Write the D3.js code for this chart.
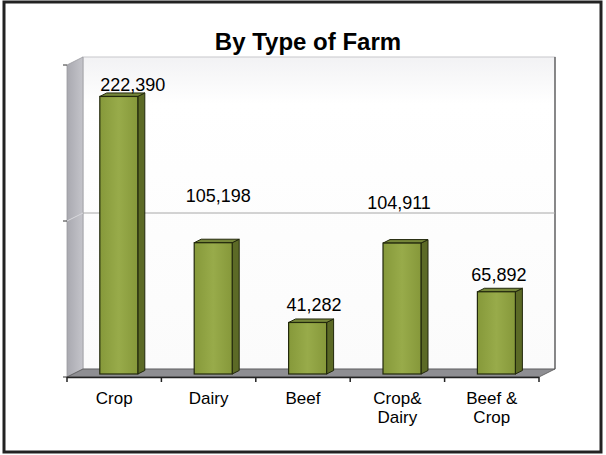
<!DOCTYPE html>
<html>
<head>
<meta charset="utf-8">
<script src="https://cdn.jsdelivr.net/npm/d3@7"></script>
<style>
  html, body { margin: 0; padding: 0; background: #fff; }
  svg { display: block; }
  text { font-family: "Liberation Sans", Arial, sans-serif; }
</style>
</head>
<body>
<svg id="chart" width="606" height="455"></svg>
<script>
// ---- data ----
const title = "By Type of Farm";
const categories = ["Crop", "Dairy", "Beef", "Crop& Dairy", "Beef & Crop"];
const categoryLines = [["Crop"], ["Dairy"], ["Beef"], ["Crop&", "Dairy"], ["Beef &", "Crop"]];
const values = [222390, 105198, 41282, 104911, 65892];
const valueLabels = ["222,390", "105,198", "41,282", "104,911", "65,892"];
const yTicks = [0, 125000, 250000];

// ---- layout ----
const svg = d3.select("#chart");
const front = { left: 67, right: 539, bottom: 377, top: 65 };
const depth = { dx: 16, dy: -8 };
const barShift = { dx: 4.6, dy: -3 };
const barSide = { dx: 7, dy: -3.5 };
// label nudges (layout only) relative to bar top-centre
const labelNudge = [[14, -5.5], [5, -41], [6.5, -11], [-3, -34], [2.5, -11]];

const x = d3.scaleBand().domain(categories).range([front.left, front.right]).paddingInner(0).paddingOuter(0);
const y = d3.scaleLinear().domain([0, 250000]).range([front.bottom, front.top]);

const defs = svg.append("defs");
const wallGrad = defs.append("linearGradient").attr("id", "wall").attr("x1", 0).attr("y1", 0).attr("x2", 0).attr("y2", 1);
wallGrad.append("stop").attr("offset", "0%").attr("stop-color", "#f2f2f4");
wallGrad.append("stop").attr("offset", "15%").attr("stop-color", "#ffffff");
wallGrad.append("stop").attr("offset", "100%").attr("stop-color", "#fbfbfb");
const sideGrad = defs.append("linearGradient").attr("id", "side").attr("x1", 0).attr("y1", 0).attr("x2", 1).attr("y2", 0);
sideGrad.append("stop").attr("offset", "0%").attr("stop-color", "#a9a9b0");
sideGrad.append("stop").attr("offset", "100%").attr("stop-color", "#c4c4ca");
const barGrad = defs.append("linearGradient").attr("id", "barFront").attr("x1", 0).attr("y1", 0).attr("x2", 1).attr("y2", 0);
barGrad.append("stop").attr("offset", "0%").attr("stop-color", "#86993a");
barGrad.append("stop").attr("offset", "50%").attr("stop-color", "#98ab4a");
barGrad.append("stop").attr("offset", "100%").attr("stop-color", "#86983a");

// outer frame
svg.append("rect").attr("x", 4).attr("y", 2).attr("width", 597).attr("height", 450)
  .attr("fill", "#fff").attr("stroke", "#222").attr("stroke-width", 3);

// title
svg.append("text").attr("x", 308).attr("y", 50).attr("text-anchor", "middle")
  .attr("font-size", 24).attr("font-weight", "bold").attr("fill", "#000").text(title);

const y0 = y(0), yMax = y(250000);
// back wall
svg.append("rect")
  .attr("x", front.left + depth.dx).attr("y", yMax + depth.dy)
  .attr("width", front.right - front.left).attr("height", y0 - yMax)
  .attr("fill", "url(#wall)").attr("stroke", "#c8c8cc").attr("stroke-width", 1);
// back wall right edge darker
svg.append("line")
  .attr("x1", front.right + depth.dx).attr("x2", front.right + depth.dx)
  .attr("y1", yMax + depth.dy).attr("y2", y0 + depth.dy)
  .attr("stroke", "#4a4a4a").attr("stroke-width", 1.2);
// side wall
svg.append("polygon")
  .attr("points", [[front.left, yMax], [front.left + depth.dx, yMax + depth.dy], [front.left + depth.dx, y0 + depth.dy], [front.left, y0]].map(p => p.join(",")).join(" "))
  .attr("fill", "url(#side)").attr("stroke", "#9a9aa0").attr("stroke-width", 0.8);
// floor
svg.append("polygon")
  .attr("points", [[front.left, y0], [front.left + depth.dx, y0 + depth.dy], [front.right + depth.dx, y0 + depth.dy], [front.right, y0]].map(p => p.join(",")).join(" "))
  .attr("fill", "#8e8e92").attr("stroke", "#555").attr("stroke-width", 0.8);

// gridlines on back wall and side wall
yTicks.filter(t => t > 0 && t < 250000).forEach(t => {
  svg.append("line")
    .attr("x1", front.left + depth.dx).attr("x2", front.right + depth.dx)
    .attr("y1", y(t) + depth.dy).attr("y2", y(t) + depth.dy)
    .attr("stroke", "#a8a8a8").attr("stroke-width", 1);
  svg.append("line")
    .attr("x1", front.left).attr("x2", front.left + depth.dx)
    .attr("y1", y(t)).attr("y2", y(t) + depth.dy)
    .attr("stroke", "#d8d8dc").attr("stroke-width", 1);
});

// y ticks (no labels)
svg.append("g").selectAll("line").data(yTicks).join("line")
  .attr("x1", front.left - 4).attr("x2", front.left)
  .attr("y1", d => y(d)).attr("y2", d => y(d))
  .attr("stroke", "#333").attr("stroke-width", 1);

// x axis line and ticks
const xAxis = d3.axisBottom(x).tickSize(4).tickFormat("");
const gx = svg.append("g").attr("transform", `translate(0,${y0})`);
gx.append("line").attr("x1", front.left).attr("x2", front.right).attr("y1", 0.5).attr("y2", 0.5)
  .attr("stroke", "#222").attr("stroke-width", 1.5);
const bounds = categories.map(c => x(c)).concat([front.right]);
gx.selectAll("line.tk").data(bounds).join("line").attr("class", "tk")
  .attr("x1", d => d).attr("x2", d => d).attr("y1", 0).attr("y2", 5)
  .attr("stroke", "#222").attr("stroke-width", 1.5);

// bars
const bw = 38;
const bars = svg.append("g");
categories.forEach((c, i) => {
  const cx = x(c) + x.bandwidth() / 2 + barShift.dx;
  const x0 = cx - bw / 2, x1 = cx + bw / 2;
  const bot = y(0) + barShift.dy;
  const top = y(values[i]) + barShift.dy;
  const g = bars.append("g");
  // side face
  g.append("polygon")
    .attr("points", [[x1, top], [x1 + barSide.dx, top + barSide.dy], [x1 + barSide.dx, bot + barSide.dy], [x1, bot]].map(p => p.join(",")).join(" "))
    .attr("fill", "#5c6a26").attr("stroke", "#22280c").attr("stroke-width", 1);
  // top cap
  g.append("polygon")
    .attr("points", [[x0, top], [x0 + barSide.dx, top + barSide.dy], [x1 + barSide.dx, top + barSide.dy], [x1, top]].map(p => p.join(",")).join(" "))
    .attr("fill", "#76873a").attr("stroke", "#22280c").attr("stroke-width", 1);
  // front face
  g.append("rect").attr("x", x0).attr("y", top).attr("width", bw).attr("height", bot - top)
    .attr("fill", "url(#barFront)").attr("stroke", "#22280c").attr("stroke-width", 1.2);
  // value label
  g.append("text")
    .attr("x", cx + labelNudge[i][0]).attr("y", top + labelNudge[i][1])
    .attr("text-anchor", "middle").attr("font-size", 18).attr("fill", "#000")
    .text(valueLabels[i]);
});

// category labels
const cl = svg.append("g");
categories.forEach((c, i) => {
  const t = cl.append("text").attr("x", x(c) + x.bandwidth() / 2 + (i >= 3 ? 1 : 0)).attr("y", 404)
    .attr("text-anchor", "middle").attr("font-size", 17).attr("fill", "#000");
  categoryLines[i].forEach((ln, j) => {
    t.append("tspan").attr("x", x(c) + x.bandwidth() / 2).attr("dy", j === 0 ? 0 : 19).text(ln);
  });
});
</script>
</body>
</html>
